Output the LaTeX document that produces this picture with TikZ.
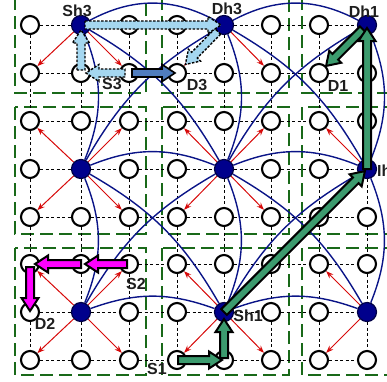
\documentclass[tikz,border=0pt]{standalone}
\usepackage{fontspec}
\setmainfont{Liberation Sans}
\usetikzlibrary{calc,arrows.meta}
\pgfdeclarelayer{background}
\pgfsetlayers{background,main}

\definecolor{arcblue}{RGB}{10,20,135}
\definecolor{headfill}{RGB}{0,0,140}
\definecolor{headedge}{RGB}{0,0,70}
\definecolor{relayred}{RGB}{215,10,10}
\definecolor{clustergreen}{RGB}{25,105,25}
\definecolor{routegreen}{RGB}{60,155,110}
\definecolor{routemagenta}{RGB}{255,0,255}
\definecolor{routesky}{RGB}{165,215,240}
\definecolor{routesteel}{RGB}{80,125,190}
\definecolor{labelgray}{RGB}{30,30,30}

% geometry of the block arrows
\newcommand\fahead{13pt}
\newcommand\fashaft{4pt}
\newcommand\fawing{8.5pt}

% block arrow: #1 style, #2 source node, #3 target node,
% #4 cut at the source centre, #5 cut at the target centre
\newcommand\fatarrow[5]{%
  \coordinate (fa-a) at ($(#2.center)!#4!(#3.center)$);
  \coordinate (fa-b) at ($(#3.center)!#5!(#2.center)$);
  \coordinate (fa-n) at ($(fa-b)!\fahead!(fa-a)$);
  \filldraw[#1] ($(fa-a)!\fashaft!90:(fa-b)$) -- ($(fa-n)!\fashaft!90:(fa-b)$)
    -- ($(fa-n)!\fawing!90:(fa-b)$) -- (fa-b) -- ($(fa-n)!\fawing!-90:(fa-b)$)
    -- ($(fa-n)!\fashaft!-90:(fa-b)$) -- ($(fa-a)!\fashaft!-90:(fa-b)$) -- cycle;
}

\tikzset{
  gridnode/.style={circle, draw=black, fill=white, line width=2.1pt, minimum size=18pt, inner sep=0pt},
  headnode/.style={circle, draw=headedge, fill=headfill, line width=1.2pt, minimum size=19pt, inner sep=0pt},
  gridline/.style={black, line width=0.9pt, dash pattern=on 3pt off 2.5pt},
  clusterbox/.style={clustergreen, line width=2.2pt, dash pattern=on 13pt off 6pt},
  headlink/.style={arcblue, line width=1.4pt},
  relay/.style={relayred, line width=1pt, -{Stealth[length=7.5pt,width=5.5pt]}},
  greenroute/.style={fill=routegreen, draw=black, line width=2pt, line join=miter},
  magroute/.style={fill=routemagenta, draw=black, line width=2pt, line join=miter},
  skyroute/.style={fill=routesky, draw=black, line width=1.4pt, dash pattern=on 2.5pt off 1.5pt},
  steelroute/.style={fill=routesteel, draw=black, line width=1.6pt},
  lbl/.style={font=\bfseries\fontsize{16pt}{18pt}\selectfont, text=labelgray, inner sep=0pt},
}

\begin{document}
\begin{tikzpicture}[x=1pt, y=-1pt]
\useasboundingbox (0,0) rectangle (387,381);

% sensor grid: cluster heads sit at columns 1,4,7 and rows 0,3,6
\foreach \i/\x in {0/30,1/81,2/129,3/177,4/224,5/271,6/319,7/367}{
  \foreach \j/\y in {0/25,1/73,2/121,3/169,4/217,5/264,6/312,7/360}{
    \pgfmathtruncatemacro{\hb}{(mod(\i,3)==1)&&(mod(\j,3)==0)}
    \ifnum\hb=1
      \node[headnode] (n\i\j) at (\x,\y) {};
    \else
      \node[gridnode] (n\i\j) at (\x,\y) {};
    \fi
  }
}

\begin{pgfonlayer}{background}
  % cluster boundaries
  \foreach \xa/\xb in {15/146, 162/289, 302/460}{
    \foreach \ya/\yb in {-60/93, 107/234, 248/375}{
      \draw[clusterbox] (\xa,\ya) rectangle (\xb,\yb);
    }
  }
  % grid links
  \foreach \i in {0,...,6}{
    \foreach \j in {0,...,7}{
      \pgfmathtruncatemacro{\k}{\i+1}
      \draw[gridline] (n\i\j) -- (n\k\j);
      \draw[gridline] (n\j\i) -- (n\j\k);
    }
  }
  % links between cluster heads
  \draw[headlink] (n10) to[bend left=28] (n40);
  \draw[headlink] (n40) to[bend left=28] (n70);
  \draw[headlink] (n13) to[bend left=22] (n43);
  \draw[headlink] (n43) to[bend left=22] (n73);
  \draw[headlink] (n16) to[bend left=20] (n46);
  \draw[headlink] (n46) to[bend left=20] (n76);
  \draw[headlink] (n10) to[bend left=22] (n13);
  \draw[headlink] (n13) to[bend left=22] (n16);
  \draw[headlink] (n40) to[bend left=22] (n43);
  \draw[headlink] (n43) to[bend left=22] (n46);
  \draw[headlink] (n70) to[bend left=22] (n73);
  \draw[headlink] (n73) to[bend left=22] (n76);
  \draw[headlink] (n10) to[bend left=15] (n43);
  \draw[headlink] (n40) to[bend left=15] (n73);
  \draw[headlink] (n13) to[bend left=15] (n46);
  \draw[headlink] (n43) to[bend left=15] (n76);
  \draw[headlink] (n13) to[bend left=15] (n40);
  \draw[headlink] (n43) to[bend left=15] (n70);
  \draw[headlink] (n16) to[bend left=15] (n43);
  \draw[headlink] (n46) to[bend left=15] (n73);
  % relays from each head to its diagonal neighbours
  \foreach \bi in {1,4,7}{
    \foreach \bj in {0,3,6}{
      \foreach \di in {-1,1}{
        \foreach \dj in {-1,1}{
          \pgfmathtruncatemacro{\ti}{\bi+\di}
          \pgfmathtruncatemacro{\tj}{\bj+\dj}
          \pgfmathtruncatemacro{\ok}{(\ti>=0)&&(\ti<=7)&&(\tj>=0)&&(\tj<=7)}
          \ifnum\ok=1 \draw[relay] (n\bi\bj) -- (n\ti\tj); \fi
        }
      }
    }
  }
\end{pgfonlayer}

% route S1 -> D1
\fatarrow{greenroute}{n70}{n61}{6pt}{10pt}
\fatarrow{greenroute}{n73}{n70}{0pt}{3pt}
\fatarrow{greenroute}{n46}{n73}{0pt}{3pt}
\fatarrow{greenroute}{n47}{n46}{2pt}{7pt}
\fatarrow{greenroute}{n37}{n47}{1pt}{2pt}

% route S2 -> D2
\fatarrow{magroute}{n05}{n06}{3pt}{1pt}
\fatarrow{magroute}{n15}{n05}{0pt}{5pt}
\fatarrow{magroute}{n25}{n15}{2pt}{4pt}

% route S3 -> D3 through the heads
\fatarrow{skyroute}{n40}{n31}{9pt}{12pt}
\fatarrow{skyroute}{n10}{n40}{4pt}{3pt}
\fatarrow{skyroute}{n11}{n10}{3pt}{5pt}
\fatarrow{skyroute}{n21}{n11}{4pt}{5pt}
% direct S3 -> D3
\fatarrow{steelroute}{n21}{n31}{3pt}{2pt}

% labels
\node[lbl] (lSh3) at ([shift={(-4,-14)}]n10.center) {Sh3};
\node[lbl] (lDh3) at ([shift={(3,-16)}]n40.center) {Dh3};
\node[lbl] (lDh1) at ([shift={(-3,-13)}]n70.center) {Dh1};
\node[lbl] (lS3) at ([shift={(-17,11)}]n21.center) {S3};
\node[lbl] (lD3) at ([shift={(20,12)}]n31.center) {D3};
\node[lbl] (lD1) at ([shift={(19,13)}]n61.center) {D1};
\node[lbl, anchor=west] (lIh) at ([shift={(10,2)}]n73.center) {Ih};
\node[lbl] (lS2) at ([shift={(7,20)}]n25.center) {S2};
\node[lbl] (lD2) at ([shift={(15,12)}]n06.center) {D2};
\node[lbl] (lSh1) at ([shift={(24,4)}]n46.center) {Sh1};
\node[lbl] (lS1) at ([shift={(-20,9)}]n37.center) {S1};
\end{tikzpicture}
\end{document}
